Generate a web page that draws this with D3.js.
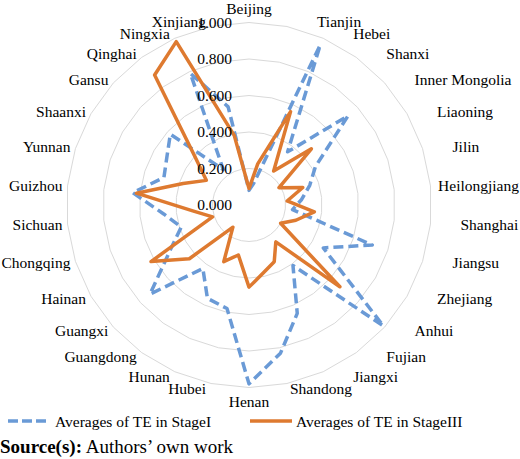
<!DOCTYPE html>
<html lang="en">
<head>
<meta charset="UTF-8">
<title>TE radar</title>
<script src="https://cdn.jsdelivr.net/npm/d3@7"></script>
<style>
  body { margin: 0; background: #fff; }
  text { font-family: "Liberation Serif", "Times New Roman", serif; fill: #000; }
</style>
</head>
<body>
<script>
// provinces, clockwise from the top
const provinces = ["Beijing", "Tianjin", "Hebei", "Shanxi", "Inner Mongolia", "Liaoning", "Jilin",
  "Heilongjiang", "Shanghai", "Jiangsu", "Zhejiang", "Anhui", "Fujian", "Jiangxi", "Shandong",
  "Henan", "Hubei", "Hunan", "Guangdong", "Guangxi", "Hainan", "Chongqing", "Sichuan", "Guizhou",
  "Yunnan", "Shaanxi", "Gansu", "Qinghai", "Ningxia", "Xinjiang"];

const stageI = [0.08, 0.12, 0.96, 0.36, 0.73, 0.42, 0.35, 0.29, 0.24, 0.71, 0.47, 0.99, 0.41, 0.65, 0.83,
  0.98, 0.58, 0.56, 0.43, 0.73, 0.50, 0.39, 0.47, 0.64, 0.49, 0.52, 0.58, 0.24, 0.79, 0.55];

const stageIII = [0.09, 0.23, 0.56, 0.23, 0.46, 0.19, 0.31, 0.21, 0.36, 0.27, 0.20, 0.67, 0.25, 0.34, 0.38,
  0.45, 0.28, 0.34, 0.15, 0.44, 0.62, 0.21, 0.31, 0.62, 0.38, 0.27, 0.40, 0.88, 0.98, 0.39];

const ticks = [0, 0.2, 0.4, 0.6, 0.8, 1.0];
const seriesNames = ["Averages of TE in StageI", "Averages of TE in StageIII"];

const width = 520, height = 459;
const cx = 249, cy = 205, R = 182.5;
const blue = "#6A9AD6", orange = "#DE7A30";

const svg = d3.select("body").append("svg")
  .attr("width", width)
  .attr("height", height)
  .attr("viewBox", [0, 0, width, height]);

const angle = d3.scaleLinear().domain([0, provinces.length]).range([0, 2 * Math.PI]);
const r = d3.scaleLinear().domain([0, 1]).range([0, R]);

const g = svg.append("g").attr("transform", `translate(${cx},${cy})`);

// polygon gridlines
const ring = d3.lineRadial().curve(d3.curveLinearClosed);
g.selectAll("path.grid")
  .data(ticks.slice(1))
  .join("path")
  .attr("class", "grid")
  .attr("fill", "none")
  .attr("stroke", "#D9D9D9")
  .attr("stroke-width", 1)
  .attr("d", t => ring(provinces.map((p, i) => [angle(i), r(t)])));

// the two series
const radar = d3.lineRadial()
  .angle((d, i) => angle(i))
  .radius(d => r(d))
  .curve(d3.curveLinearClosed);

g.append("path")
  .attr("fill", "none")
  .attr("stroke", blue)
  .attr("stroke-width", 3.5)
  .attr("stroke-dasharray", "10,5")
  .attr("stroke-linejoin", "round")
  .attr("d", radar(stageI));

g.append("path")
  .attr("fill", "none")
  .attr("stroke", orange)
  .attr("stroke-width", 3.5)
  .attr("stroke-linejoin", "round")
  .attr("d", radar(stageIII));

// value labels on the vertical axis
g.selectAll("text.tick")
  .data(ticks)
  .join("text")
  .attr("class", "tick")
  .attr("x", -17)
  .attr("y", t => -r(t))
  .attr("dy", "0.35em")
  .attr("text-anchor", "end")
  .style("font-size", "15.5px")
  .text(d3.format(".3f"));

// category labels round the outside (Excel-like: level with the ring vertex, pushed sideways)
g.selectAll("text.cat")
  .data(provinces)
  .join("text")
  .attr("class", "cat")
  .style("font-size", "15.5px")
  .attr("dy", "0.35em")
  .text(d => d)
  .each(function (name, i) {
    const a = angle(i);
    const s = Math.sin(a), c = Math.cos(a);
    const px = R * s, py = -R * c;
    const t = d3.select(this);
    if (Math.abs(s) < 0.05) {
      t.attr("x", px).attr("y", py - 14 * c).attr("text-anchor", "middle");
    } else if (s > 0) {
      const len = this.getComputedTextLength();
      let x = px + (c < -0.95 ? 3 : 30);
      x = Math.min(x, width - cx - 1 - len);
      t.attr("x", x).attr("y", py - 5 * c).attr("text-anchor", "start");
    } else {
      t.attr("x", px - 5).attr("y", py - 5 * c).attr("text-anchor", "end");
    }
  });

// legend
const legend = svg.append("g");
legend.append("line")
  .attr("x1", 8).attr("x2", 47).attr("y1", 421).attr("y2", 421)
  .attr("stroke", blue).attr("stroke-width", 3.5).attr("stroke-dasharray", "10,4");
legend.append("text").attr("x", 55).attr("y", 426.5)
  .style("font-size", "15.5px").text(seriesNames[0]);
legend.append("line")
  .attr("x1", 250).attr("x2", 292).attr("y1", 421).attr("y2", 421)
  .attr("stroke", orange).attr("stroke-width", 3.5);
legend.append("text").attr("x", 296).attr("y", 426.5)
  .style("font-size", "15.5px").text(seriesNames[1]);

// source line
const src = svg.append("text").attr("x", 0).attr("y", 453).style("font-size", "19px");
src.append("tspan").style("font-weight", "bold").text("Source(s):");
src.append("tspan").text(" Authors\u2019 own work");
</script>
</body>
</html>
